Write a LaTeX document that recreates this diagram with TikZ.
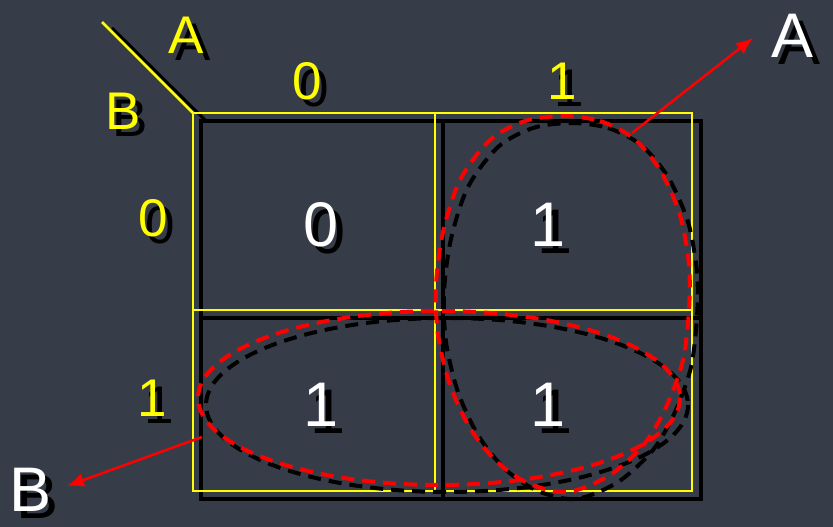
\documentclass[tikz,border=0pt]{standalone}
\usepackage{fontspec}
\setmainfont{Liberation Sans}
\usetikzlibrary{arrows.meta}
\definecolor{bg}{RGB}{55,61,72}
\definecolor{kred}{RGB}{255,0,0}
\definecolor{kyel}{RGB}{255,255,0}
\newcommand{\fsLab}{\fontsize{53}{60}\selectfont}
\newcommand{\fsBig}{\fontsize{63}{70}\selectfont}
\newcommand{\KLabel}[5]{%
  \node[lbl, text=black, font=#4] (#1s) at ([shift={(7,7)}]#2) {#5};
  \node[lbl, text=#3, font=#4] (#1) at (#2) {#5};}
\tikzset{
  lbl/.style={inner sep=0pt, outer sep=0pt, anchor=center},
  ygrid/.style={draw=kyel, line width=2.6pt},
  bgrid/.style={draw=black, line width=3.5pt},
  loopred/.style={draw=kred, line width=4pt, dash pattern=on 13pt off 8pt},
  loopblk/.style={draw=black, line width=4pt, dash pattern=on 13pt off 8pt},
  redarrow/.style={draw=kred, line width=2.5pt, -{Latex[length=17pt,width=14pt]}},
}
\begin{document}
\begin{tikzpicture}[x=1pt,y=-1pt]
\fill[bg] (0,0) rectangle (833,527);
\useasboundingbox (0,0) rectangle (833,527);
% grid shadow
\draw[bgrid] (201,121) rectangle (701,499);
\draw[bgrid] (443,121) -- (443,499);
\draw[bgrid] (201,318) -- (701,318);
\draw[draw=black, line width=3pt] (112,28) -- (206,121);
% grid
\draw[ygrid] (193,113) rectangle (692,491);
\draw[ygrid] (435,113) -- (435,491);
\draw[ygrid] (193,310) -- (692,310);
\draw[ygrid] (102,22) -- (193,113);
% loops: shadows
\begin{scope}[shift={(8,7)}]
\draw[loopblk] (439,398) ellipse [x radius=241, y radius=87];
\draw[loopblk] plot[smooth cycle] coordinates {(563,116) (600,121) (633,138) (660,170) (680,215) (689,265) (689,310) (683,360) (667,405) (645,443) (610,475) (568,492) (530,484) (497,462) (470,428) (450,385) (438,335) (436,285) (443,232) (460,180) (490,140) (525,121)};
\end{scope}
% loops: red
\draw[loopred] (439,398) ellipse [x radius=241, y radius=87];
\draw[loopred] plot[smooth cycle] coordinates {(563,116) (600,121) (633,138) (660,170) (680,215) (689,265) (689,310) (683,360) (667,405) (645,443) (610,475) (568,492) (530,484) (497,462) (470,428) (450,385) (438,335) (436,285) (443,232) (460,180) (490,140) (525,121)};
% labels
\KLabel{varA}{186,35}{kyel}{\fsLab}{A}
\KLabel{varB}{123,111}{kyel}{\fsLab}{B}
\KLabel{colz}{307,81}{kyel}{\fsLab}{0}
\KLabel{colo}{562,81}{kyel}{\fsLab}{1}
\KLabel{rowz}{153,218}{kyel}{\fsLab}{0}
\KLabel{rowo}{152,398}{kyel}{\fsLab}{1}
\KLabel{czz}{321,225}{white}{\fsBig}{0}
\KLabel{czo}{548,225}{white}{\fsBig}{1}
\KLabel{coz}{321,405}{white}{\fsBig}{1}
\KLabel{coo}{548,405}{white}{\fsBig}{1}
\KLabel{outA}{793,36}{white}{\fsBig}{A}
\KLabel{outB}{31,490}{white}{\fsBig}{B}
% arrows
\coordinate (aStart) at (632,133);
\coordinate (aTip) at (753,38);
\coordinate (bStart) at (202,437);
\coordinate (bTip) at (67,486);
\draw[redarrow] (aStart) -- (aTip);
\draw[redarrow] (bStart) -- (bTip);
\end{tikzpicture}
\end{document}
